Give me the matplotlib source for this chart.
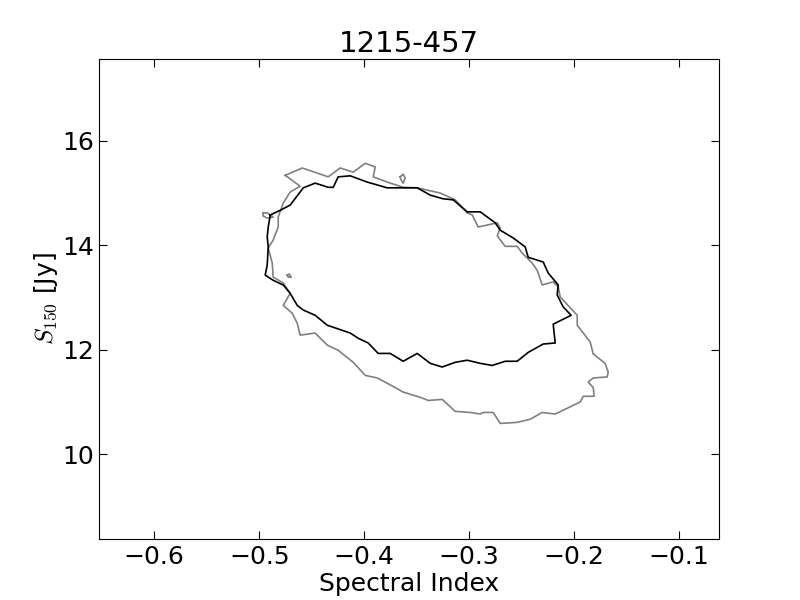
import matplotlib
matplotlib.use("Agg")
import matplotlib.pyplot as plt

# contour: (spectral index, S150 in Jy)
inner_alpha = [-0.4895, -0.48, -0.4705, -0.458, -0.4467, -0.4343, -0.4295, -0.4248, -0.4133,
               -0.3971, -0.3781, -0.3629, -0.3495, -0.3371, -0.3248, -0.3152, -0.3019, -0.2895,
               -0.2752, -0.2705, -0.2581, -0.2467, -0.2438, -0.2295, -0.2248, -0.2152, -0.2162,
               -0.2105, -0.2029, -0.22, -0.2181, -0.2295, -0.2438, -0.2543, -0.2657, -0.2781,
               -0.2895, -0.3019, -0.3133, -0.3257, -0.3371, -0.3495, -0.3629, -0.3752, -0.3867,
               -0.3962, -0.4057, -0.4133, -0.4352, -0.4467, -0.458, -0.4638, -0.4705, -0.4771,
               -0.4867, -0.4943, -0.4924, -0.4914, -0.4924, -0.4914, -0.4895]
inner_flux = [14.58, 14.67, 14.77, 15.10, 15.19, 15.11, 15.11, 15.31, 15.33,
              15.21, 15.10, 15.10, 15.10, 14.96, 14.89, 14.87, 14.64, 14.64,
              14.43, 14.29, 14.14, 13.97, 13.77, 13.68, 13.47, 13.24, 13.05,
              12.82, 12.66, 12.49, 12.13, 12.11, 11.95, 11.78, 11.78, 11.70,
              11.74, 11.80, 11.76, 11.67, 11.74, 11.93, 11.78, 11.93, 11.93,
              12.13, 12.22, 12.32, 12.47, 12.66, 12.76, 12.85, 13.08, 13.24,
              13.33, 13.43, 13.62, 13.97, 14.16, 14.35, 14.58]

outer_alpha = [-0.4752, -0.459, -0.4343, -0.4229, -0.4105, -0.399, -0.3895, -0.3914, -0.3781,
               -0.3629, -0.3495, -0.3276, -0.3133, -0.3019, -0.2971, -0.2914, -0.2733, -0.2705,
               -0.2733, -0.2657, -0.2543, -0.2495, -0.24, -0.2352, -0.2305, -0.22, -0.2152,
               -0.2133, -0.1971, -0.1971, -0.1848, -0.1819, -0.1705, -0.1676, -0.1686, -0.1819,
               -0.1867, -0.1819, -0.181, -0.1914, -0.1943, -0.2067, -0.2181, -0.2305, -0.2419,
               -0.2543, -0.2705, -0.2771, -0.2867, -0.2895, -0.299, -0.3133, -0.3257, -0.339,
               -0.3467, -0.3629, -0.3781, -0.3876, -0.399, -0.4105, -0.4248, -0.4352, -0.4467,
               -0.461, -0.4638, -0.4686, -0.4771, -0.4705, -0.4771, -0.4867, -0.4876, -0.4914,
               -0.4867, -0.4819, -0.4819, -0.4771, -0.4705, -0.461, -0.4752]
outer_flux = [15.34, 15.48, 15.31, 15.48, 15.40, 15.57, 15.50, 15.31, 15.21,
              15.11, 15.10, 15.00, 14.87, 14.62, 14.58, 14.35, 14.43, 14.33,
              14.18, 13.98, 13.98, 13.85, 13.66, 13.52, 13.24, 13.30, 13.20,
              13.01, 12.66, 12.47, 12.15, 11.92, 11.74, 11.57, 11.48, 11.46,
              11.38, 11.28, 11.11, 11.11, 11.00, 10.88, 10.77, 10.80, 10.67,
              10.61, 10.59, 10.80, 10.80, 10.77, 10.80, 10.82, 11.05, 11.03,
              11.09, 11.19, 11.36, 11.46, 11.51, 11.76, 11.99, 12.09, 12.32,
              12.28, 12.51, 12.70, 12.85, 13.08, 13.28, 13.39, 13.66, 13.95,
              14.10, 14.35, 14.54, 14.81, 15.02, 15.13, 15.34]

# small islands of the outer contour
islands_alpha = [[-0.3657, -0.3629, -0.361, -0.3629, -0.3648, -0.3657],
                 [-0.4962, -0.4924, -0.4867, -0.4924, -0.4962, -0.4962],
                 [-0.4733, -0.4714, -0.4695, -0.4724, -0.4733]]
islands_flux = [[15.31, 15.36, 15.29, 15.19, 15.25, 15.31],
                [14.62, 14.62, 14.54, 14.52, 14.56, 14.62],
                [13.43, 13.45, 13.39, 13.39, 13.43]]

plt.rcParams['mathtext.fontset'] = 'cm'

fig, ax = plt.subplots(figsize=(8, 6), dpi=100)
fig.subplots_adjust(left=0.124, right=0.899, bottom=0.101, top=0.902)

ax.plot(outer_alpha, outer_flux, color='gray', lw=1.2)
for a, f in zip(islands_alpha, islands_flux):
    ax.plot(a, f, color='gray', lw=1.2)
ax.plot(inner_alpha, inner_flux, color='black', lw=1.2)

ax.set_xlim(-0.6524, -0.0619)
ax.set_ylim(8.37, 17.57)
ax.set_xticks([-0.6, -0.5, -0.4, -0.3, -0.2, -0.1])
ax.set_yticks([10, 12, 14, 16])
ax.tick_params(direction='in', top=True, right=True, labelsize=18, length=6, pad=4)

ax.set_title("1215-457", fontsize=21, pad=5)
ax.set_xlabel("Spectral Index", fontsize=18, labelpad=2)
ax.set_ylabel(r"$S_{150}$ [Jy]", fontsize=18, labelpad=1)

fig.savefig("out.png", dpi=100)
